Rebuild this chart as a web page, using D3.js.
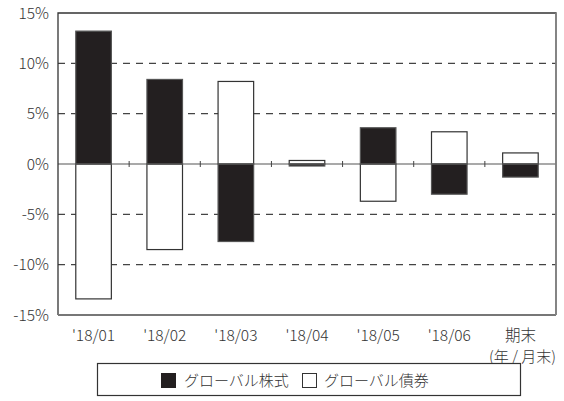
<!DOCTYPE html>
<html>
<head>
<meta charset="utf-8">
<script src="https://cdn.jsdelivr.net/npm/d3@7"></script>
<style>
  body { margin: 0; background: #fff; }
  text { font-family: "Noto Sans CJK JP", "Noto Sans", sans-serif; font-weight: 300; fill: #333; }
</style>
</head>
<body>
<script>
// data (%)
var categories = ["'18/01", "'18/02", "'18/03", "'18/04", "'18/05", "'18/06", "期末"];
var stocks = [13.2, 8.4, -7.7, -0.2, 3.6, -3.0, -1.3];   // グローバル株式
var bonds = [-13.4, -8.5, 8.2, 0.35, -3.7, 3.2, 1.1];    // グローバル債券
var yTicks = [-15, -10, -5, 0, 5, 10, 15];
var gridTicks = [-10, -5, 5, 10];

var margin = { top: 13, left: 58, right: 8, bottom: 86 },
  width = 564 - margin.left - margin.right,
  height = 401 - margin.top - margin.bottom;

var svg = d3.select("body").append("svg")
  .attr("width", 564)
  .attr("height", 401)
  .append("g")
  .attr("transform", "translate(" + margin.left + "," + margin.top + ")");

var x = d3.scaleBand()
  .domain(categories)
  .range([0, width])
  .paddingInner(0.5)
  .paddingOuter(0.25);

var y = d3.scaleLinear()
  .domain([-15, 15])
  .range([height, 0]);

// dashed grid lines
svg.selectAll(".grid")
  .data(gridTicks)
  .enter().append("line")
  .attr("x1", 0)
  .attr("x2", width)
  .attr("y1", function (d) { return y(d); })
  .attr("y2", function (d) { return y(d); })
  .attr("stroke", "#444")
  .attr("stroke-width", 1.2)
  .attr("stroke-dasharray", "7,6");

// bars: bonds (white) and stocks (black) share the same slot
function bars(values, fill, stroke) {
  svg.selectAll(null)
    .data(values)
    .enter().append("rect")
    .attr("x", function (d, i) { return x(categories[i]); })
    .attr("width", x.bandwidth())
    .attr("y", function (d) { return y(Math.max(0, d)); })
    .attr("height", function (d) { return Math.abs(y(d) - y(0)); })
    .attr("fill", fill)
    .attr("stroke", stroke)
    .attr("stroke-width", 1.2);
}
bars(bonds, "#fff", "#333");
bars(stocks, "#231f20", "#555");

// zero line with small ticks between categories
svg.append("line")
  .attr("x1", 0).attr("x2", width)
  .attr("y1", y(0)).attr("y2", y(0))
  .attr("stroke", "#555")
  .attr("stroke-width", 1.2);

svg.selectAll(".sep")
  .data(categories.slice(1))
  .enter().append("line")
  .attr("x1", function (d) { return x(d) - x.bandwidth() / 2; })
  .attr("x2", function (d) { return x(d) - x.bandwidth() / 2; })
  .attr("y1", y(0) - 3)
  .attr("y2", y(0) + 3)
  .attr("stroke", "#444")
  .attr("stroke-width", 1);

// frame
svg.append("path")
  .attr("d", "M0," + height + "V0H" + width + "V" + height)
  .attr("fill", "none")
  .attr("stroke", "#333")
  .attr("stroke-width", 1.3);
svg.append("line")
  .attr("x1", 0).attr("x2", width)
  .attr("y1", height).attr("y2", height)
  .attr("stroke", "#777")
  .attr("stroke-width", 2);
svg.append("line")
  .attr("x1", width).attr("x2", width)
  .attr("y1", 0).attr("y2", height)
  .attr("stroke", "#888")
  .attr("stroke-width", 1.6);

// y labels
svg.selectAll(".ylab")
  .data(yTicks)
  .enter().append("text")
  .attr("x", -9)
  .attr("y", function (d) { return y(d); })
  .attr("dy", "0.36em")
  .attr("text-anchor", "end")
  .style("font-size", "15.5px")
  .text(function (d) { return d + "%"; });

// x labels
svg.selectAll(".xlab")
  .data(categories)
  .enter().append("text")
  .attr("x", function (d) { return x(d) + x.bandwidth() / 2; })
  .attr("y", height + 26)
  .attr("text-anchor", "middle")
  .style("font-size", "15.5px")
  .text(function (d) { return d; });
svg.append("text")
  .attr("x", x("期末") + x.bandwidth() / 2 + 2)
  .attr("y", height + 47)
  .attr("text-anchor", "middle")
  .style("font-size", "15px")
  .text("(年 / 月末)");

// legend
var lg = d3.select("svg").append("g");
lg.append("rect")
  .attr("x", 97.5).attr("y", 363.5)
  .attr("width", 423).attr("height", 32)
  .attr("fill", "#fff")
  .attr("stroke", "#333")
  .attr("stroke-width", 1.2);
lg.append("rect")
  .attr("x", 161).attr("y", 373)
  .attr("width", 15).attr("height", 15)
  .attr("fill", "#231f20");
lg.append("text")
  .attr("x", 184).attr("y", 386)
  .style("font-size", "15px")
  .text("グローバル株式");
lg.append("rect")
  .attr("x", 302.5).attr("y", 373.5)
  .attr("width", 14).attr("height", 14)
  .attr("fill", "#fff")
  .attr("stroke", "#333");
lg.append("text")
  .attr("x", 324).attr("y", 386)
  .style("font-size", "15px")
  .text("グローバル債券");
</script>
</body>
</html>
